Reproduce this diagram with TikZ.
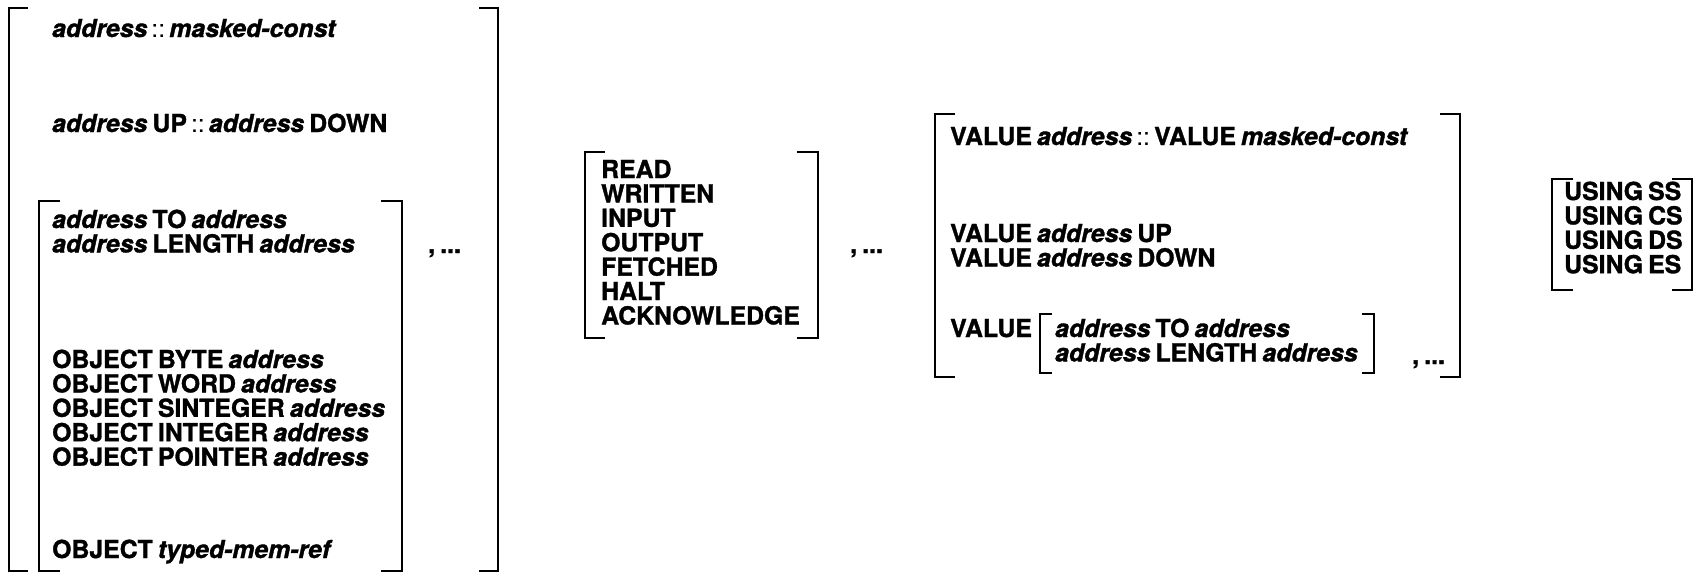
\documentclass[tikz,border=0pt]{standalone}
\usepackage{fontspec}
\setmainfont{TeX Gyre Heros}[WordSpace=0.75,BoldFeatures={FakeBold=1.3},BoldItalicFeatures={FakeBold=1.3}]
\newcommand{\addr}{\textit{address}}
\newcommand{\dcol}{{\mdseries\,::\,}}
\tikzset{
  txt/.style={anchor=base west, inner sep=0pt, font=\fontsize{24.8}{25}\selectfont\bfseries},
  brk/.style={line width=2.2pt, line cap=butt, line join=miter}
}
\begin{document}
\begin{tikzpicture}[x=1pt,y=-1pt]
\useasboundingbox[fill=white] (0,0) rectangle (1693,574);
% ---------- left block ----------
\draw[brk] (28,8) -- (9,8) -- (9,571) -- (28,571);
\draw[brk] (479,8) -- (498,8) -- (498,571) -- (479,571);
\draw[brk] (60,201) -- (39,201) -- (39,571) -- (60,571);
\draw[brk] (381,201) -- (402,201) -- (402,571) -- (381,571);
\node[txt] (a1) at (52,37) {\addr\dcol\textit{masked-const}};
\node[txt] (a2) at (52,132) {\addr{} UP\dcol\addr{} DOWN};
\node[txt] (a3) at (52,228) {\addr{} TO \addr};
\node[txt] (a4) at (52,252.4) {\addr{} LENGTH \addr};
\node[txt] (ac) at (428,253) {, ...};
\node[txt] (o1) at (52,368) {OBJECT BYTE \addr};
\node[txt] (o2) at (52,392.4) {OBJECT WORD \addr};
\node[txt] (o3) at (52,416.8) {OBJECT SINTEGER \addr};
\node[txt] (o4) at (52,441.2) {OBJECT INTEGER \addr};
\node[txt] (o5) at (52,465.6) {OBJECT POINTER \addr};
\node[txt] (o6) at (52,558) {OBJECT \textit{typed-mem-ref}};
% ---------- middle block ----------
\draw[brk] (605,152) -- (585,152) -- (585,338) -- (605,338);
\draw[brk] (797,152) -- (818,152) -- (818,338) -- (797,338);
\node[txt] (r1) at (601,178) {READ};
\node[txt] (r2) at (601,202.4) {WRITTEN};
\node[txt] (r3) at (601,226.8) {INPUT};
\node[txt] (r4) at (601,251.2) {OUTPUT};
\node[txt] (r5) at (601,275.6) {FETCHED};
\node[txt] (r6) at (601,300) {HALT};
\node[txt] (r7) at (601,324.4) {ACKNOWLEDGE};
\node[txt] (rc) at (850,253) {, ...};
% ---------- right block ----------
\draw[brk] (955,114) -- (935,114) -- (935,377) -- (955,377);
\draw[brk] (1440,114) -- (1460,114) -- (1460,377) -- (1440,377);
\node[txt] (v1) at (950,145) {VALUE \addr\dcol VALUE \textit{masked-const}};
\node[txt] (v2) at (950,242) {VALUE \addr{} UP};
\node[txt] (v3) at (950,266.4) {VALUE \addr{} DOWN};
\node[txt] (v4) at (950,337) {VALUE};
\draw[brk] (1052,314) -- (1040,314) -- (1040,373) -- (1052,373);
\draw[brk] (1362,314) -- (1374,314) -- (1374,373) -- (1362,373);
\node[txt] (v5) at (1055,337) {\addr{} TO \addr};
\node[txt] (v6) at (1055,361.4) {\addr{} LENGTH \addr};
\node[txt] (vc) at (1412,364) {, ...};
% ---------- using block ----------
\draw[brk] (1573,179) -- (1552,179) -- (1552,290) -- (1573,290);
\draw[brk] (1672,179) -- (1692,179) -- (1692,290) -- (1672,290);
\node[txt] (u1) at (1564,200) {USING SS};
\node[txt] (u2) at (1564,224.4) {USING CS};
\node[txt] (u3) at (1564,248.8) {USING DS};
\node[txt] (u4) at (1564,273.2) {USING ES};
\end{tikzpicture}
\end{document}
